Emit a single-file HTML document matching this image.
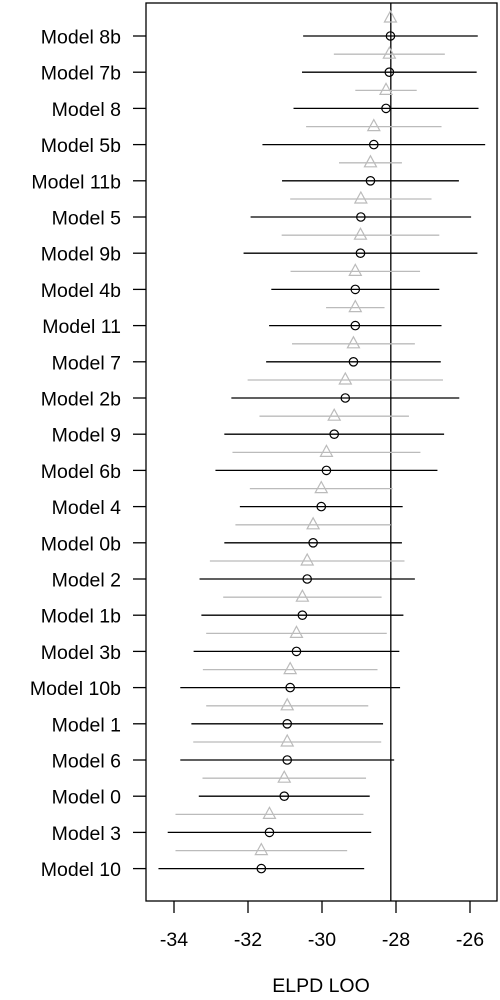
<!DOCTYPE html>
<html><head><meta charset="utf-8"><style>body{margin:0;background:#fff}svg{display:block;font-family:"Liberation Sans",Arial,sans-serif}</style></head>
<body>
<svg id="chart" width="500" height="1000" viewBox="0 0 500 1000"></svg>
<script>
const models=["Model 8b","Model 7b","Model 8","Model 5b","Model 11b","Model 5","Model 9b","Model 4b","Model 11","Model 7","Model 2b","Model 9","Model 6b","Model 4","Model 0b","Model 2","Model 1b","Model 3b","Model 10b","Model 1","Model 6","Model 0","Model 3","Model 10"];
const elpd=[-28.15,-28.18,-28.27,-28.60,-28.69,-28.95,-28.96,-29.10,-29.10,-29.15,-29.37,-29.67,-29.88,-30.02,-30.24,-30.40,-30.53,-30.69,-30.86,-30.94,-30.94,-31.02,-31.42,-31.64];
const se=[2.36,2.36,2.50,3.01,2.39,2.98,3.16,2.27,2.33,2.36,3.08,2.97,3.00,2.20,2.40,2.91,2.73,2.78,2.97,2.59,2.89,2.31,2.75,2.78];
const dse=[0,1.50,0.83,1.83,0.85,1.91,2.13,1.75,0.79,1.66,2.64,2.02,2.54,1.93,2.10,2.63,2.14,2.44,2.36,2.19,2.54,2.21,2.54,2.32];
const xTicks=[-34,-32,-30,-28,-26];
const refLine=-28.14;
const xLabel="ELPD LOO";

const NS="http://www.w3.org/2000/svg";
const svg=document.getElementById('chart');
const L=146,R=497,T=3,B=901;
const x=v=>174+(v+34)*37;
const y=i=>36+i*36.2;
function mk(tag,attrs,parent){const e=document.createElementNS(NS,tag);for(const k in attrs)e.setAttribute(k,attrs[k]);(parent||svg).appendChild(e);return e;}

const frame=mk('rect',{x:L,y:T,width:R-L,height:B-T,fill:'none',stroke:'#000','stroke-width':1.3});



const ref=mk('line',{x1:x(refLine),x2:x(refLine),y1:T,y2:B,stroke:'#000','stroke-width':1.3});



models.forEach((m,i)=>{
  const yy=y(i);
  const tk=mk('line',{x1:L-13,x2:L,y1:yy,y2:yy,stroke:'#000','stroke-width':1.3});
  
  
  const lb=mk('text',{x:121,y:yy+7.5,'text-anchor':'end','font-size':19.5,fill:'#000'});
  lb.textContent=m;
  
  
  const ty=yy-18;
  if(dse[i]>0){
    const gl=mk('line',{x1:x(elpd[i]-dse[i]),x2:x(elpd[i]+dse[i]),y1:ty,y2:ty,stroke:'#bbb','stroke-width':1.3});
    
    
  }
  const cx=x(elpd[i]);
  const tri=mk('polygon',{points:`${cx-6},${ty+4} ${cx+6},${ty+4} ${cx},${ty-7}`,fill:'none',stroke:'#bbb','stroke-width':1.2});
  
  
  const bl=mk('line',{x1:x(elpd[i]-se[i]),x2:x(elpd[i]+se[i]),y1:yy,y2:yy,stroke:'#000','stroke-width':1.3});
  
  
  const c=mk('circle',{cx:cx,cy:yy,r:4.2,fill:'none',stroke:'#000','stroke-width':1.2});
  
  
});

xTicks.forEach(t=>{
  const tk=mk('line',{x1:x(t),x2:x(t),y1:B,y2:B+12,stroke:'#000','stroke-width':1.3});
  
  
  const lb=mk('text',{x:x(t),y:946,'text-anchor':'middle','font-size':19.5,fill:'#000'});
  lb.textContent=t;
  
  
});
const xt=mk('text',{x:321,y:992,'text-anchor':'middle','font-size':19.5,fill:'#000'});
xt.textContent=xLabel;


</script>
</body></html>
